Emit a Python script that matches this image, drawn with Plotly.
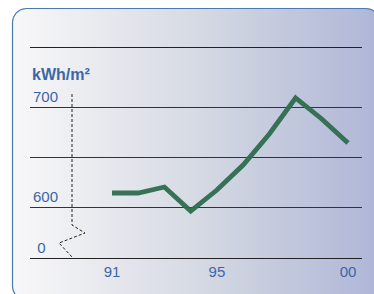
import numpy as np
import plotly.graph_objects as go

# ---- data ----
years = [1991, 1992, 1993, 1994, 1995, 1996, 1997, 1998, 1999, 2000]
values = [614, 614, 620, 596, 617, 642, 673, 709, 688, 664]
x_tickvals = [1991, 1995, 2000]
x_ticktext = ["91", "95", "00"]
y_tickvals = [549, 600, 650, 700]
y_ticktext = ["\u00a00", "600", "", "700"]
unit_label = "kWh/m\u00b2"

W, H = 374, 294
BLUE = "#3b67a6"
FONT = "Liberation Sans, Arial, sans-serif"

fig = go.Figure()

# ---- rounded gradient panel (background axes in pixel units) ----
L, T, R, B, r = 12.5, 8.5, 380, 300, 14
t = np.linspace(0, np.pi / 2, 12)
px, py = [], []
for cx, cy, a0 in [(L + r, T + r, np.pi), (R - r, T + r, 1.5 * np.pi),
                   (R - r, B - r, 0), (L + r, B - r, 0.5 * np.pi)]:
    px += list(cx + r * np.cos(a0 + t))
    py += list(cy + r * np.sin(a0 + t))
px.append(px[0]); py.append(py[0])
fig.add_trace(go.Scatter(
    x=px, y=py, mode="lines", fill="toself",
    line=dict(color="#4a7ab4", width=1.2),
    fillgradient=dict(type="horizontal", colorscale=[
        [0.0, "#f8f8f9"], [0.31, "#e4e5ec"], [0.53, "#d3d8e2"],
        [0.75, "#c2c8dc"], [0.96, "#b2b8d8"], [1.0, "#aeb4d6"]]),
    hoverinfo="skip", showlegend=False, xaxis="x", yaxis="y"))

# ---- data line ----
fig.add_trace(go.Scatter(
    x=years, y=values, mode="lines",
    line=dict(color="#2f6d4f", width=4.8), opacity=0.95,
    showlegend=False, xaxis="x2", yaxis="y2"))

# main plot area in pixels
x0p, x1p, y0p, y1p = 30, 362, 48, 258
tickfont = dict(family=FONT, color=BLUE, size=15)
fig.update_layout(
    width=W, height=H, margin=dict(l=0, r=0, t=0, b=0),
    paper_bgcolor="white", plot_bgcolor="rgba(0,0,0,0)",
    font=dict(family=FONT, color=BLUE, size=15),
    xaxis=dict(domain=[0, 1], range=[0, W], visible=False, fixedrange=True),
    yaxis=dict(domain=[0, 1], range=[H, 0], visible=False, fixedrange=True),
    xaxis2=dict(domain=[x0p / W, x1p / W], anchor="y2",
                range=[1991 - 82 / (236 / 9), 2000 + 14 / (236 / 9)],
                tickvals=x_tickvals, ticktext=x_ticktext, showgrid=False,
                showline=True, linecolor="#222", linewidth=1.3, mirror=True,
                ticks="", zeroline=False, tickfont=tickfont),
    yaxis2=dict(domain=[1 - y1p / H, 1 - y0p / H], anchor="x2",
                range=[549, 759], tickvals=y_tickvals, ticktext=y_ticktext,
                ticklabelposition="inside top", showgrid=True,
                gridcolor="#333", gridwidth=1.2, zeroline=False,
                showline=False, ticks="", tickfont=tickfont),
)

# unit label
fig.add_annotation(x=30, y=74, xref="x", yref="y", text="<b>" + unit_label + "</b>",
                   showarrow=False, xanchor="left", yanchor="middle",
                   font=dict(size=16, color=BLUE, family=FONT))

# broken-axis dashed marker
fig.add_shape(type="path", xref="x", yref="y",
              path="M72,94 L72,225 L85,233 L59,243 L72,257",
              line=dict(color="#222", width=1, dash="3px,2px"), layer="above")

fig.write_html("out.html", config={"displayModeBar": False},
               post_script="document.body.style.margin='0';document.body.style.overflow='hidden';")
